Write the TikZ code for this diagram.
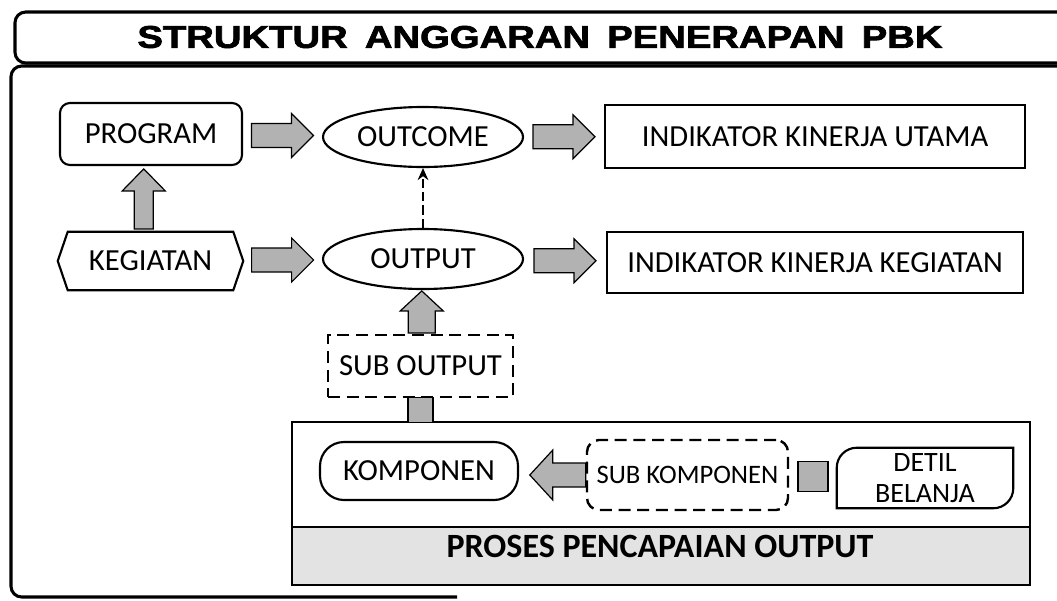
\documentclass[tikz,border=0pt]{standalone}
\usepackage{fontspec}
\setmainfont{Carlito}
\newfontfamily\titlefont{Liberation Sans Bold}[RawFeature={embolden=2}]
\usetikzlibrary{shapes.geometric,arrows.meta,calc}
\tikzset{
  pics/barrow/.style n args={4}{code={%
    \path[blockarrow] (-#1/2,-#3/2) -- (#1/2-#4,-#3/2) -- (#1/2-#4,-#2/2) -- (#1/2,0)
      -- (#1/2-#4,#2/2) -- (#1/2-#4,#3/2) -- (-#1/2,#3/2) -- cycle;
  }},
  blockarrow/.style={draw=black,line width=0.9pt,fill=gray!60,line join=miter},
  bodyfont/.style={font=\fontsize{23}{27}\selectfont},
  solidbox/.style={draw,line width=1.6pt,inner sep=0pt,bodyfont},
  dashbox/.style={draw,line width=1.8pt,dash pattern=on 9pt off 5pt,inner sep=0pt,bodyfont},
  oval/.style={ellipse,draw,line width=1.6pt,inner sep=0pt,bodyfont},
  plainbox/.style={inner sep=0pt,bodyfont},
  frame/.style={line width=2.3pt,rounded corners=8pt},
}
\begin{document}
\begin{tikzpicture}[x=0.75pt,y=-0.75pt]
\useasboundingbox (0,0) rectangle (1057,600);
\clip (0,0) rectangle (1057,600);

% frames
\draw[frame] (1075,12) -- (15,12) -- (15,63) -- (1075,63);
\draw[frame] (1075,66) -- (11,66) -- (11,597) -- (457,597);
\node (title) at (540,37) {\resizebox{603.75pt}{16.5pt}{\titlefont STRUKTUR\hspace{0.45em}ANGGARAN\hspace{0.45em}PENERAPAN\hspace{0.45em}PBK}};

% bottom panel
\node[draw,line width=1.3pt,minimum width=553.5pt,minimum height=78.75pt] (panel) at (661,474.5) {};
\node[draw,line width=1.3pt,fill=gray!22,minimum width=553.5pt,minimum height=43.5pt] (strip) at (661,556) {};
\node[inner sep=0pt,font=\fontsize{25.5}{28}\selectfont\bfseries] (proses) at (660,546) {PROSES PENCAPAIAN OUTPUT};

% top rows
\node[solidbox,rounded corners=7.5pt,minimum width=136.5pt,minimum height=46.5pt] (prog) at (151,134) {PROGRAM};
\node[oval,minimum width=150pt,minimum height=45pt] (outcome) at (423,137) {OUTCOME};
\node[solidbox,minimum width=315pt,minimum height=47.25pt] (iku) at (815,136.5) {INDIKATOR KINERJA UTAMA};

\node[plainbox,minimum width=138.75pt,minimum height=43.5pt] (keg) at (150.5,261) {KEGIATAN};
\draw[line width=1.6pt,line join=miter] ([xshift=7.5pt]keg.north west) -- ([xshift=-7.5pt]keg.north east) -- (keg.east)
  -- ([xshift=-7.5pt]keg.south east) -- ([xshift=7.5pt]keg.south west) -- (keg.west) -- cycle;
\node[oval,minimum width=150pt,minimum height=45pt] (output) at (423,259) {OUTPUT};
\node[solidbox,minimum width=312pt,minimum height=45.75pt] (ikk) at (815,262.5) {INDIKATOR KINERJA KEGIATAN};

\node[dashbox,minimum width=138.75pt,minimum height=46.5pt] (subout) at (420.5,366) {SUB OUTPUT};

% process row
\node[solidbox,rounded corners=18pt,minimum width=148.5pt,minimum height=43.5pt] (komp) at (419,471) {KOMPONEN};
\node[dashbox,rounded corners=9pt,minimum width=150.75pt,minimum height=52.5pt,font=\fontsize{20}{24}\selectfont] (subkomp) at (687.5,475) {SUB KOMPONEN};
\node[plainbox,align=center,minimum width=132pt,minimum height=45pt,font=\fontsize{21}{23.25}\selectfont] (detil) at (925,478) {DETIL\\BELANJA};
\draw[line width=1.6pt] (detil.south west) -- ([yshift=-15pt]detil.north west) arc[start angle=180,end angle=90,radius=15pt]
  -- (detil.north east) -- ([yshift=15pt]detil.south east) arc[start angle=0,end angle=-90,radius=15pt] -- cycle;

% block arrows
\pic at ($(prog.east)!0.5!(outcome.west)$) {barrow={62}{44}{24}{22}};
\pic at ($(outcome.east)!0.5!(iku.west)$) {barrow={62}{44}{24}{22}};
\pic at ($(keg.east)!0.5!(output.west)$) {barrow={62}{44}{24}{22}};
\pic at ($(output.east)!0.5!(ikk.west)$) {barrow={62}{44}{24}{22}};
\pic[rotate=90] at ($(keg.north)!0.5!(prog.south)+(-7,0)$) {barrow={60}{43}{19}{22}};
\pic[rotate=90] at ($(subout.north)!0.5!(output.south)$) {barrow={42}{43}{27}{20}};
\pic[rotate=180] at ($(subkomp.west)+(-28,0)$) {barrow={56}{50}{24}{23}};
\path[blockarrow] ($(subout.south)!0.5!(subout.south |- panel.north)+(-12.5,-12.5)$) rectangle ++(25,25);
\path[blockarrow] ($(subkomp.east)!0.5!(detil.west)+(-15,-15)$) rectangle ++(30,30);

% dashed link
\draw[line width=1.4pt,dash pattern=on 7pt off 3pt,-{Stealth[length=9pt,width=8pt]}] (output.north) -- (outcome.south);
\end{tikzpicture}
\end{document}
